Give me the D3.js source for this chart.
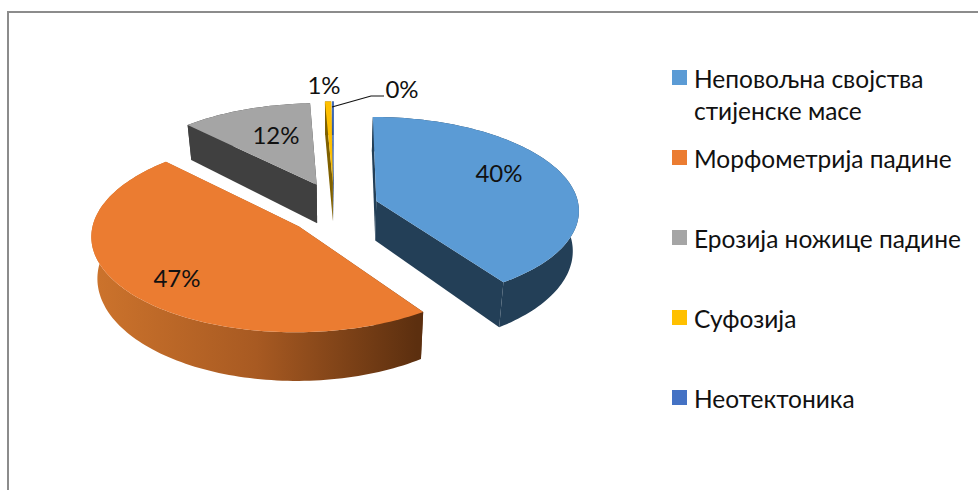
<!DOCTYPE html>
<html>
<head>
<meta charset="utf-8">
<script src="https://cdn.jsdelivr.net/npm/d3@7"></script>
<style>
  html, body { margin: 0; background: #fff; overflow: hidden; }
  text { font-family: Lato, "Noto Sans", sans-serif; fill: #111; }
</style>
</head>
<body>
<div id="chart"></div>
<script>
// Data (labels round these to whole percents)
const categories = [
    ["Неповољна својства", "стијенске масе"],
    ["Морфометрија падине"],
    ["Ерозија ножице падине"],
    ["Суфозија"],
    ["Неотектоника"]
];
const shares = [40.4, 47.4, 11.6, 0.55, 0.15];
const topColors = ["#5b9bd5", "#eb7c31", "#a5a5a5", "#ffc000", "#4472c4"];
const sideColors = ["#233f57", "url(#rimOrange)", "#404040", "#7f6000", "#284578"];

const width = 978, height = 490;

const svg = d3.select("#chart").append("svg")
    .attr("width", width)
    .attr("height", height);

// Frame, right and bottom sides fall outside the picture
svg.append("path")
    .attr("d", `M8 ${height} V12 H${width}`)
    .attr("fill", "none")
    .attr("stroke", "#8c8c8c")
    .attr("stroke-width", 2);

const grad = svg.append("defs").append("linearGradient")
    .attr("id", "rimOrange")
    .attr("gradientUnits", "userSpaceOnUse")
    .attr("x1", 95).attr("x2", 417).attr("y1", 0).attr("y2", 0);
grad.append("stop").attr("offset", 0).attr("stop-color", "#cc732c");
grad.append("stop").attr("offset", 0.5).attr("stop-color", "#a85a22");
grad.append("stop").attr("offset", 1).attr("stop-color", "#5c2f0f");

// Pie geometry: slices are exploded on the ground plane, then put in perspective
const center = [334, 209];
const radiusX = 203, radiusY = 93, depth = 40;
const explodeX = 0.22, explodeY = 0.29;
const persp = 0.09;

const pie = d3.pie().sort(null).value(d => d);
const arcs = pie(shares);

// project a point of a slice: r is 0..1 along the radius, h 0 top, 1 bottom
function project(slice, angle, r, h) {
    const mid = (slice.startAngle + slice.endAngle) / 2;
    const wx = explodeX * Math.sin(mid) + r * Math.sin(angle);
    const wy = explodeY * Math.cos(mid) + r * Math.cos(angle);
    const s = 1 / (1 + persp * wy);
    const shrink = 1 - 0.025 * h;
    return [
        center[0] + radiusX * wx * s * shrink,
        center[1] - radiusY * wy * s + h * depth / (1 + 0.15 * wy)
    ];
}

function rimAngles(slice) {
    const n = Math.max(2, Math.ceil((slice.endAngle - slice.startAngle) * 40));
    return d3.range(n + 1).map(i => slice.startAngle + (slice.endAngle - slice.startAngle) * i / n);
}

const line = d3.line().curve(d3.curveLinearClosed);

const groups = svg.selectAll("g.slice")
    .data(arcs)
    .enter()
    .append("g")
    .attr("class", "slice");

// extruded sides first
groups.each(function (d, i) {
    const g = d3.select(this);
    const angles = rimAngles(d);
    const rimTop = angles.map(a => project(d, a, 1, 0));
    const rimBottom = angles.map(a => project(d, a, 1, 1)).reverse();
    const faces = [
        rimTop.concat(rimBottom),
        [project(d, 0, 0, 0), project(d, d.startAngle, 1, 0), project(d, d.startAngle, 1, 1), project(d, 0, 0, 1)],
        [project(d, 0, 0, 0), project(d, d.endAngle, 1, 0), project(d, d.endAngle, 1, 1), project(d, 0, 0, 1)]
    ];
    g.selectAll("path.side")
        .data(faces)
        .enter()
        .append("path")
        .attr("class", "side")
        .attr("d", line)
        .attr("fill", sideColors[i]);
    g.append("path")
        .attr("d", line([project(d, 0, 0, 0)].concat(angles.map(a => project(d, a, 1, 0)))))
        .attr("fill", topColors[i]);
});

// Data labels
const pct = d3.format(".0%");
const total = d3.sum(shares);
const labelSpots = [[499, 172], [177, 277], [276, 134], [324, 84], [402, 88]];
svg.selectAll("text.pct")
    .data(arcs)
    .enter()
    .append("text")
    .attr("class", "pct")
    .attr("x", (d, i) => labelSpots[i][0])
    .attr("y", (d, i) => labelSpots[i][1])
    .attr("text-anchor", "middle")
    .attr("dominant-baseline", "central")
    .attr("font-size", 24)
    .text(d => pct(d.value / total));

// Leader line for the smallest slice
svg.append("path")
    .attr("d", d3.line()([[332, 107], [371, 96], [384, 96]]))
    .attr("fill", "none")
    .attr("stroke", "#111")
    .attr("stroke-width", 1.2);

// Legend
const legendY = d3.scalePoint().domain(d3.range(categories.length)).range([78, 398]);
const legend = svg.selectAll("g.legend")
    .data(categories)
    .enter()
    .append("g")
    .attr("class", "legend")
    .attr("transform", (d, i) => `translate(672,${legendY(i)})`);

legend.append("rect")
    .attr("y", -8)
    .attr("width", 15)
    .attr("height", 15)
    .attr("fill", (d, i) => topColors[i]);

legend.selectAll("text")
    .data(d => d)
    .enter()
    .append("text")
    .attr("x", 22)
    .attr("y", (d, i) => i * 32)
    .attr("dominant-baseline", "central")
    .attr("font-size", 24.5)
    .text(d => d);
</script>
</body>
</html>
